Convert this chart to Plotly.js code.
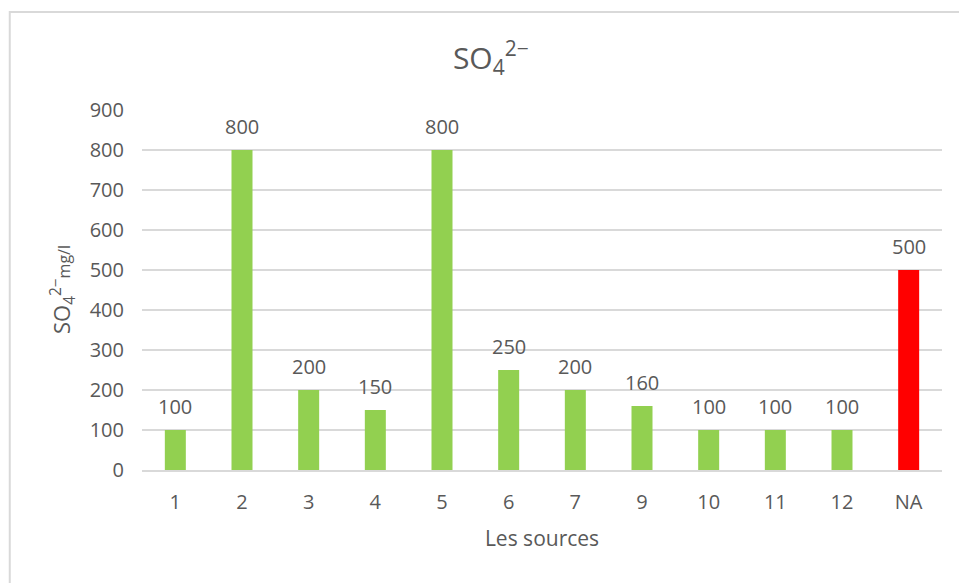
<!DOCTYPE html>
<html>
<head>
<meta charset="utf-8">
<script src="https://cdn.plot.ly/plotly-3.0.1.min.js"></script>
<style>
html,body{margin:0;padding:0;background:#fff;}
#chart{width:959px;height:583px;}
</style>
</head>
<body>
<div id="chart"></div>
<script>
const categories = ['1','2','3','4','5','6','7','9','10','11','12','NA'];
const values = [100, 800, 200, 150, 800, 250, 200, 160, 100, 100, 100, 500];
const yTicks = [0,100,200,300,400,500,600,700,800,900];

const GREEN = '#92d050', RED = '#ff0000';
const colors = categories.map(c => c === 'NA' ? RED : GREEN);
const FONT = 'Open Sans, Noto Sans, sans-serif';
const TXT = '#595959';

const trace = {
  type: 'bar',
  x: categories,
  y: values,
  marker: {color: colors, line: {width: 0}},
  hoverinfo: 'x+y'
};

const annotations = categories.map((c, i) => ({
  x: i, y: values[i], xref: 'x', yref: 'y',
  text: String(values[i]), showarrow: false,
  xanchor: 'center', yanchor: 'bottom', yshift: 8,
  font: {family: FONT, size: 20, color: TXT}
}));

annotations.push({
  xref: 'paper', yref: 'paper', x: -0.1, y: 0.5,
  xanchor: 'center', yanchor: 'middle',
  text: 'SO<sub>4</sub><sup>2−</sup><span style="font-size:16px">mg/l</span>',
  showarrow: false, textangle: -90,
  font: {family: FONT, size: 22, color: TXT}
});

const layout = {
  width: 959, height: 583,
  margin: {l: 142, r: 17, t: 110, b: 113},
  paper_bgcolor: '#fff', plot_bgcolor: '#fff',
  bargap: 0.685,
  showlegend: false,
  title: {
    text: 'SO<sub>4</sub><sup>2−</sup>',
    font: {family: FONT, size: 30, color: TXT},
    x: 0.436, xref: 'paper', xanchor: 'center',
    y: 0.9, yref: 'container', yanchor: 'middle'
  },
  xaxis: {
    type: 'category',
    range: [-0.5, categories.length - 0.5],
    showgrid: false,
    showline: true, linecolor: '#d9d9d9', linewidth: 1.5,
    ticks: '', ticklabelstandoff: 13,
    tickfont: {family: FONT, size: 20, color: TXT},
    title: {text: 'Les sources', font: {family: FONT, size: 21, color: TXT}, standoff: 18},
    fixedrange: true
  },
  yaxis: {
    range: [0, 900],
    tickvals: yTicks,
    showgrid: true, gridcolor: '#d9d9d9', gridwidth: 1.5,
    zeroline: false, showline: false,
    ticks: '', ticklabelstandoff: 17,
    tickfont: {family: FONT, size: 20, color: TXT},
    fixedrange: true
  },
  annotations: annotations,
  shapes: [{
    type: 'rect', xref: 'paper', yref: 'paper',
    x0: -0.1653, x1: 1.05, y0: -0.32, y1: 1.272,
    line: {color: '#d9d9d9', width: 2}, fillcolor: 'rgba(0,0,0,0)', layer: 'below'
  }]
};

Plotly.newPlot('chart', [trace], layout, {displayModeBar: false, staticPlot: true});
</script>
</body>
</html>
